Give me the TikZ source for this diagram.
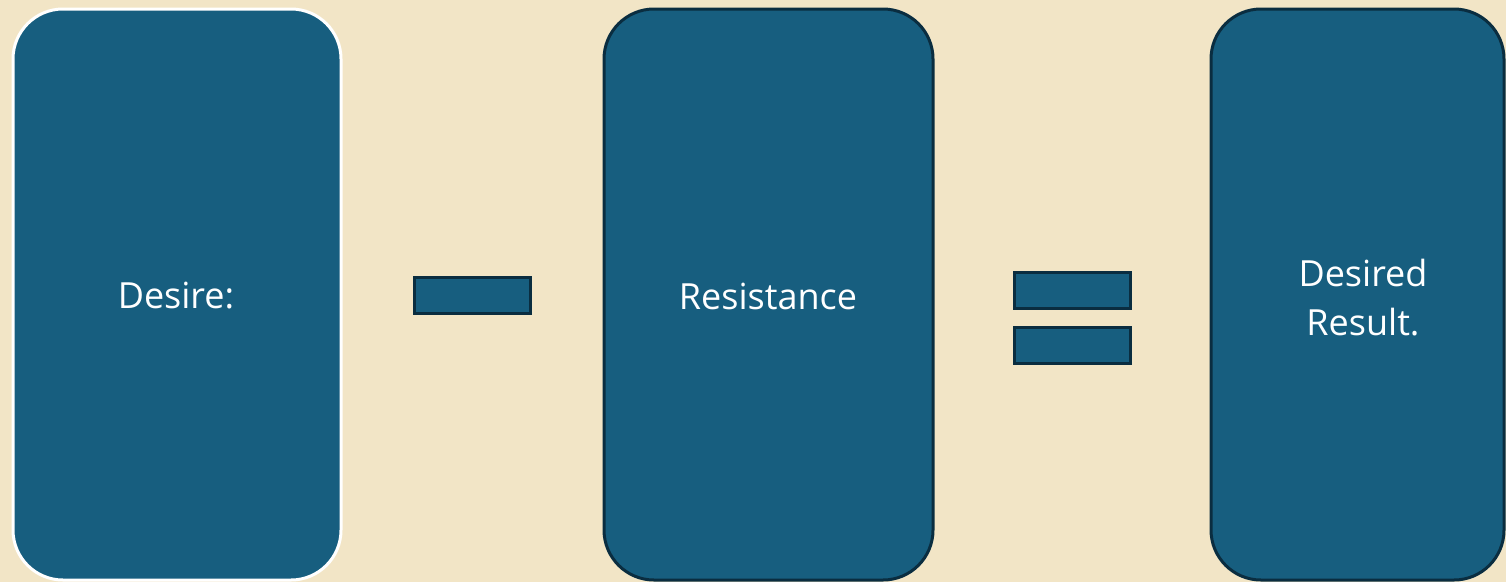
\documentclass[tikz,border=0pt]{standalone}
\usepackage{fontspec}
\setmainfont{Open Sans}
\definecolor{bg}{RGB}{242,229,198}
\definecolor{boxfill}{RGB}{23,94,127}
\definecolor{boxline}{RGB}{10,45,64}
\tikzset{
  card/.style={draw=boxline, line width=3pt, fill=boxfill, rounded corners=50pt},
  cardwhite/.style={card, draw=white},
  bar/.style={draw=boxline, line width=3pt, fill=boxfill},
  lbl/.style={text=white, font=\fontsize{36}{49}\selectfont, align=center}
}
\begin{document}
\begin{tikzpicture}[x=1pt,y=-1pt]
\fill[bg] (0,0) rectangle (1506,582);
\useasboundingbox (0,0) rectangle (1506,582);
\draw[cardwhite] (13,9) rectangle (341,580);
\draw[card] (604,9) rectangle (933,580);
\draw[card] (1211,9) rectangle (1504,580);
\draw[bar] (414,277) rectangle (530,313);
\draw[bar] (1014,272) rectangle (1130,308);
\draw[bar] (1014,327) rectangle (1130,363);
\node[lbl] (desire) at (176,296) {Desire:};
\node[lbl] (resist) at (768,296) {Resistance};
\node[lbl] (result) at (1363,298) {Desired\\Result.};
\end{tikzpicture}
\end{document}
